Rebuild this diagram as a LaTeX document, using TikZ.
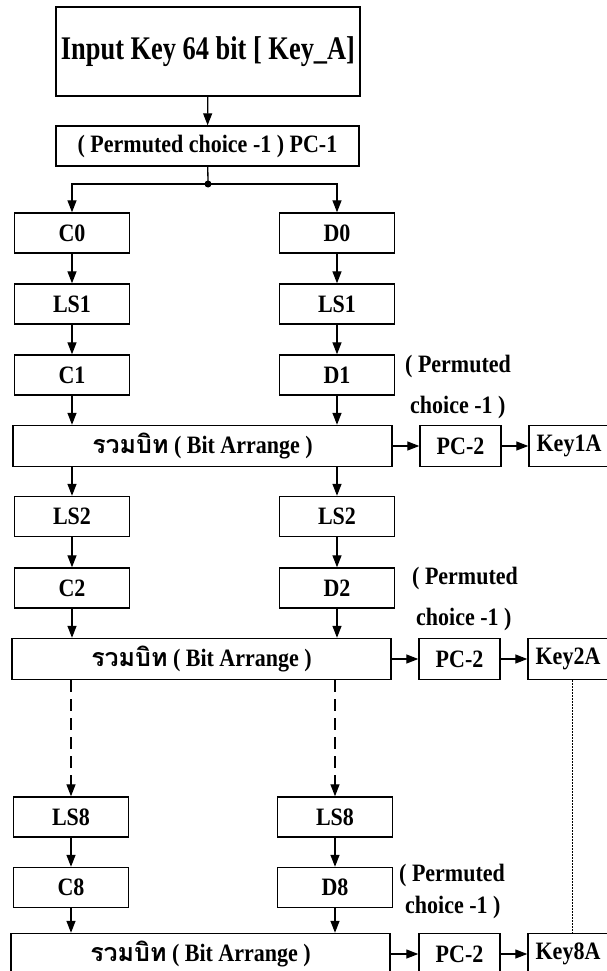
\documentclass[tikz,border=0pt]{standalone}
\usepackage{fontspec}
\setmainfont{Liberation Serif}[FakeStretch=0.88]
\newfontfamily\titlefont{Liberation Serif}[FakeStretch=0.8]
\newfontfamily\thaifont[Script=Thai]{Loma}
\usetikzlibrary{arrows.meta}

\begin{document}
\begin{tikzpicture}[x=1pt, y=-1pt, font=\fontsize{25}{28}\selectfont\bfseries,
    box/.style={draw, line width=1.4pt, inner sep=0pt, minimum height=40pt},
    col/.style={box, minimum width=115pt},
    wide/.style={box, minimum width=379pt, minimum height=41pt},
    pcbox/.style={box, minimum width=81pt, minimum height=41pt},
    keybox/.style={box, minimum width=80pt, minimum height=41pt},
    flow/.style={-{Triangle[length=12pt,width=9pt]}, line width=1.3pt},
    note/.style={anchor=west, inner sep=0pt}]
    \useasboundingbox (0,0) rectangle (606,971);
    \def\xc{72}
    \def\xd{337}
    % Input and PC-1
    \node[box, minimum width=304pt, minimum height=89pt,
          font=\fontsize{33}{36}\selectfont\titlefont\bfseries] (key) at (208,51.5) {Input Key 64 bit [ Key\_A]};
    \node[box, minimum width=303pt] (pc1) at (207.5,146) {( Permuted choice -1 ) PC-1};
    \coordinate (split) at (208,184);
    % Round 1
    \node[col] (c0) at (\xc,233) {C0};
    \node[col] (d0) at (\xd,233) {D0};
    \node[col] (lsc1) at (\xc,304) {LS1};
    \node[col] (lsd1) at (\xd,304) {LS1};
    \node[col] (c1) at (\xc,375) {C1};
    \node[col] (d1) at (\xd,375) {D1};
    \node[wide] (bit1) at (202.5,446) {{\thaifont รวมบิท} ( Bit Arrange )};
    \node[pcbox] (pcb1) at (460.5,446) {PC-2};
    \node[keybox] (ka1) at (569,446) {Key1A};
    % Round 2
    \node[col] (lsc2) at (\xc,516.5) {LS2};
    \node[col] (lsd2) at (\xd,516.5) {LS2};
    \node[col] (c2) at (\xc,588) {C2};
    \node[col] (d2) at (\xd,588) {D2};
    \node[wide] (bit2) at (201.5,659) {{\thaifont รวมบิท} ( Bit Arrange )};
    \node[pcbox] (pcb2) at (459.5,659) {PC-2};
    \node[keybox] (ka2) at (568,659) {Key2A};
    % Round 8
    \node[col] (lsc8) at (\xc-1,817) {LS8};
    \node[col] (lsd8) at (\xd-2,817) {LS8};
    \node[col] (c8) at (\xc-1,887.5) {C8};
    \node[col] (d8) at (\xd-2,887.5) {D8};
    \node[wide] (bit3) at (200.5,954) {{\thaifont รวมบิท} ( Bit Arrange )};
    \node[pcbox] (pcb3) at (459.5,954) {PC-2};
    \node[keybox] (ka8) at (568,954) {Key8A};
    % Notes
    \node[note] (pa1) at (405,366) {( Permuted};
    \node[note] (pb1) at (410,407) {choice -1 )};
    \node[note] (pa2) at (412,578) {( Permuted};
    \node[note] (pb2) at (416,619) {choice -1 )};
    \node[note] (pa8) at (399,875) {( Permuted};
    \node[note] (pb8) at (405,907) {choice -1 )};
    % Arrows
    \draw[flow] (key) -- (pc1);
    \draw[line width=1.3pt] (pc1) -- (split);
    \fill (split) circle (3.5);
    \draw[flow] (split) -| (c0);
    \draw[flow] (split) -| (d0);
    \draw[flow] (c0) -- (lsc1);
    \draw[flow] (d0) -- (lsd1);
    \draw[flow] (lsc1) -- (c1);
    \draw[flow] (lsd1) -- (d1);
    \draw[flow] (c1) -- (c1 |- bit1.north);
    \draw[flow] (d1) -- (d1 |- bit1.north);
    \draw[flow] (bit1) -- (pcb1);
    \draw[flow] (pcb1) -- (ka1);
    \draw[flow] (bit1.south -| lsc2) -- (lsc2);
    \draw[flow] (bit1.south -| lsd2) -- (lsd2);
    \draw[flow] (lsc2) -- (c2);
    \draw[flow] (lsd2) -- (d2);
    \draw[flow] (c2) -- (c2 |- bit2.north);
    \draw[flow] (d2) -- (d2 |- bit2.north);
    \draw[flow] (bit2) -- (pcb2);
    \draw[flow] (pcb2) -- (ka2);
    \draw[flow, dash pattern=on 12pt off 7pt] (bit2.south -| lsc8) -- (lsc8);
    \draw[flow, dash pattern=on 12pt off 7pt] (bit2.south -| lsd8) -- (lsd8);
    \draw[line width=1pt, dash pattern=on 1.5pt off 1.5pt] ([xshift=4pt]ka2.south) -- ([xshift=4pt]ka8.north);
    \draw[flow] (lsc8) -- (c8);
    \draw[flow] (lsd8) -- (d8);
    \draw[flow] (c8) -- (c8 |- bit3.north);
    \draw[flow] (d8) -- (d8 |- bit3.north);
    \draw[flow] (bit3) -- (pcb3);
    \draw[flow] (pcb3) -- (ka8);
\end{tikzpicture}
\end{document}
